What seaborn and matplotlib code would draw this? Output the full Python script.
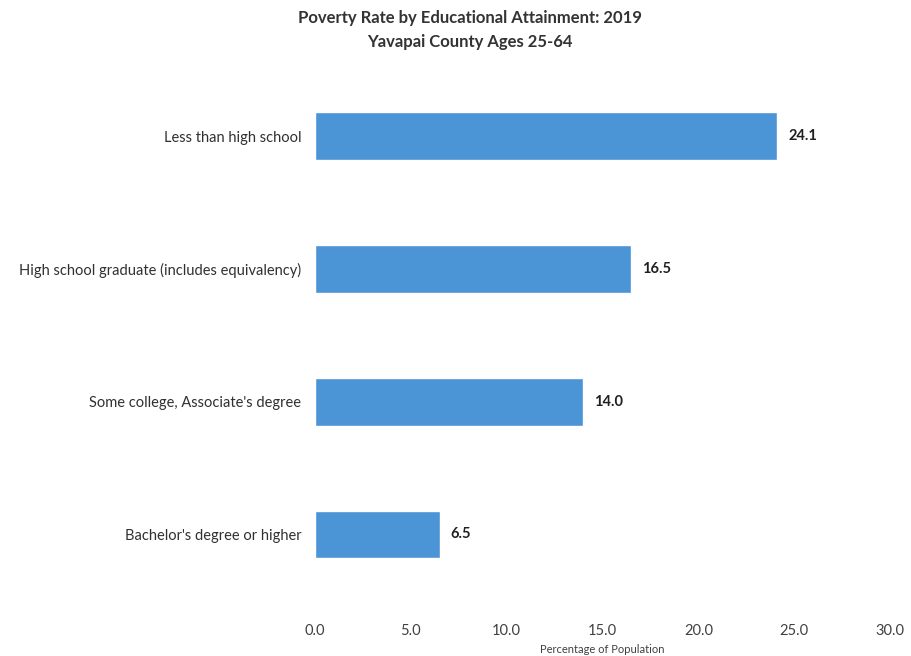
import matplotlib
matplotlib.use("Agg")
import matplotlib.pyplot as plt
import seaborn as sns
import pandas as pd

categories = ["Less than high school",
              "High school graduate (includes equivalency)",
              "Some college, Associate's degree",
              "Bachelor's degree or higher"]
values = [24.1, 16.5, 14.0, 6.5]
xticks = [0, 5, 10, 15, 20, 25, 30]
xtick_labels = ["0.0", "5.0", "10.0", "15.0", "20.0", "25.0", "30.0"]

sns.set_theme(style="white")
plt.rcParams['font.family'] = ['Lato', 'DejaVu Sans']

df = pd.DataFrame({"cat": categories, "val": values})

fig = plt.figure(figsize=(9.11, 6.56), dpi=100)
ax = fig.add_axes([0.3458, 0.074, 0.6312, 0.789])
sns.barplot(data=df, x="val", y="cat", color="#4B94D6", width=0.36, ax=ax,
            saturation=1, orient="h")
ax.set_xlim(0, 30)
ax.set_ylim(3.55, -0.35)
ax.set_xticks(xticks)
ax.set_xticklabels(xtick_labels, fontsize=10.5, color="#404040")
ax.tick_params(axis="x", length=0, pad=12)
ax.tick_params(axis="y", length=0, pad=10, labelsize=10.5, labelcolor="#303030")
for s in ax.spines.values():
    s.set_visible(False)
ax.set_ylabel("")
ax.set_xlabel("Percentage of Population", fontsize=8, color="#404040", labelpad=4)
ax.bar_label(ax.containers[0], fmt="%.1f", padding=8, fontsize=10.5,
             fontweight="bold", color="#202020")

fig.text(0.516, 0.972, "Poverty Rate by Educational Attainment: 2019",
         ha="center", va="center", fontsize=12, fontweight="bold", color="#333333")
fig.text(0.516, 0.936, "Yavapai County Ages 25-64",
         ha="center", va="center", fontsize=12, fontweight="bold", color="#333333")

fig.savefig("out.png", dpi=100)
